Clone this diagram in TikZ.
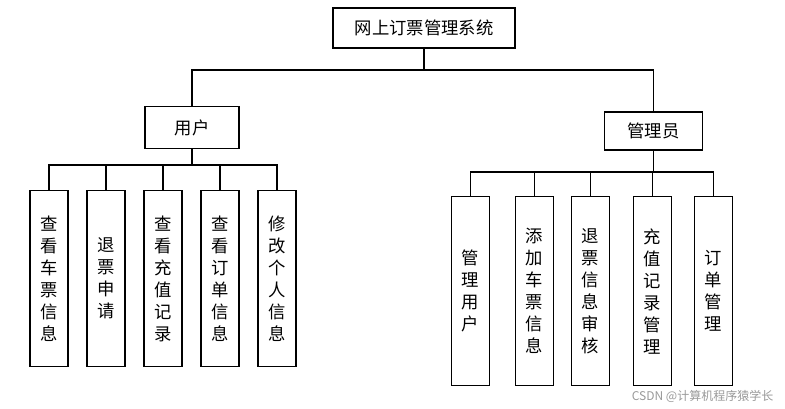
\documentclass[tikz,border=0pt]{standalone}
\usepackage{fontspec}
\setmainfont{Noto Sans CJK SC}
\begin{document}
\begin{tikzpicture}[x=0.75pt,y=-0.75pt,
  box/.style={draw,thick,inner sep=0pt,font=\fontsize{13}{16}\selectfont},
  vbox/.style={box,align=center,font=\fontsize{13}{16.5}\selectfont},
  ln/.style={thick}]
\useasboundingbox (0,0) rectangle (785,408);
\node[box,minimum width=136.5pt,minimum height=30pt] (root) at (424,28) {网上订票管理系统};
\node[box,minimum width=70.5pt,minimum height=31pt] (u) at (192,127.5) {用户};
\node[box,minimum width=74pt,minimum height=28.5pt] (a) at (653.5,131) {管理员};
\foreach \n/\x/\t in {u1/49/查\\看\\车\\票\\信\\息, u2/106/退\\票\\申\\请, u3/163/查\\看\\充\\值\\记\\录, u4/220/查\\看\\订\\单\\信\\息, u5/277/修\\改\\个\\人\\信\\息}
  \node[vbox,minimum width=28.5pt,minimum height=132pt,anchor=north] (\n) at (\x,190) {\t};
\foreach \n/\x/\t in {a1/470.5/管\\理\\用\\户, a2/534.5/添\\加\\车\\票\\信\\息, a3/590.5/退\\票\\信\\息\\审\\核, a4/652.5/充\\值\\记\\录\\管\\理, a5/713.5/订\\单\\管\\理}
  \node[vbox,minimum width=29pt,minimum height=142pt,anchor=north] (\n) at (\x,196) {\t};
\coordinate (j0) at (424,70);
\draw[ln] (root.south) -- (j0);
\draw[ln] (u.north) |- (j0) -| (a.north);
\coordinate (j1) at (192,165);
\draw[ln] (u.south) -- (j1);
\draw[ln] (u1.north) |- (j1) -| (u5.north);
\foreach \n in {u2,u3,u4} \draw[ln] (\n.north) -- (\n.north |- j1);
\coordinate (j2) at (653.5,172);
\draw[ln] (a.south) -- (j2);
\draw[ln] (a1.north) |- (j2) -| (a5.north);
\foreach \n in {a2,a3,a4} \draw[ln] (\n.north) -- (\n.north |- j2);
\node[text=gray!80,font=\fontsize{9}{10}\selectfont,anchor=east] (wm) at (778,396) {CSDN @计算机程序猿学长};
\end{tikzpicture}
\end{document}
